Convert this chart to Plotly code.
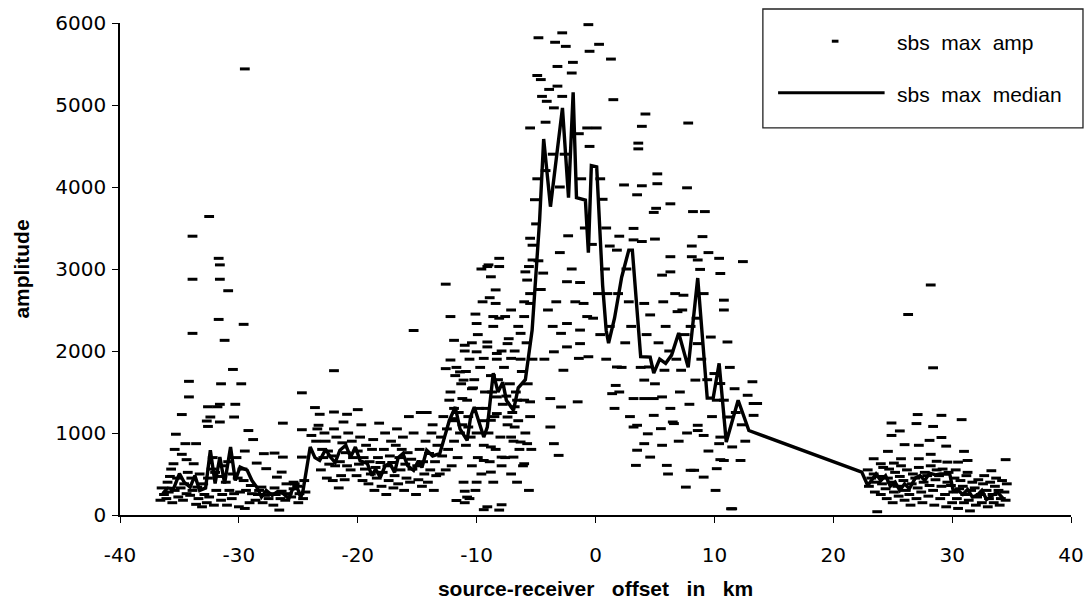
import plotly.graph_objects as go

# ---------------- data ----------------
median_km = [-36.4, -36.0, -35.5, -35.0, -34.6, -34.1, -33.7, -33.3, -32.8, -32.4, -32.0, -31.6,
             -31.2, -30.7, -30.3, -29.9, -29.3, -28.9, -28.5, -28.1, -27.7, -27.2, -26.8, -26.3,
             -25.8, -25.5, -25.1, -24.8, -24.6, -24.0, -23.6, -23.2, -22.7, -22.3, -21.9, -21.5,
             -21.0, -20.6, -20.2, -19.8, -19.2, -18.8, -18.5, -18.1, -17.7, -17.3, -16.9, -16.6,
             -16.2, -15.8, -15.3, -14.9, -14.6, -14.2, -13.7, -13.1, -12.7, -12.3, -11.8, -11.4,
             -10.8, -10.5, -10.2, -9.7, -9.4, -9.1, -8.6, -8.2, -7.8, -7.5, -6.9, -6.5, -5.9,
             -5.33, -5.0, -4.7, -4.36, -3.79, -2.78, -2.27, -1.88, -1.6, -0.85, -0.6, -0.35, 0.1,
             0.6, 0.9, 1.1, 1.6, 2.2, 2.8, 3.1, 3.8, 4.6, 4.9, 5.4, 5.9, 6.4, 7.0, 7.8, 8.6, 9.4,
             9.9, 10.4, 11.0, 12.0, 12.9, 22.4, 22.9, 23.3, 23.6, 24.0, 24.4, 24.8, 25.2, 25.6,
             26.0, 26.4, 26.9, 27.3, 27.7, 28.1, 28.6, 29.0, 29.5, 29.8, 30.1, 30.5, 30.9, 31.3,
             31.7, 32.1, 32.5, 32.9, 33.3, 33.8, 34.3]
median_amp = [260, 330, 320, 505, 400, 340, 480, 300, 330, 790, 385, 706,
              385, 830, 420, 585, 545, 420, 340, 220, 300, 240, 280, 265,
              200, 310, 340, 210, 300, 830, 700, 665, 800, 706, 640, 790,
              850, 706, 830, 660, 630, 480, 560, 460, 600, 630, 520, 700,
              750, 600, 545, 660, 580, 790, 720, 748, 950, 1150, 1317, 1050,
              910, 1200, 1317, 1100, 950, 1073, 1730, 1500, 1620, 1400, 1277, 1550, 1650,
              2255, 2900, 3600, 4585, 3760, 4965, 3870, 5155, 3870, 3840, 3200, 4260, 4245,
              2800, 2250, 2095, 2400, 2900, 3230, 3230, 1930, 1925, 1730, 1900, 1850, 1950, 2220, 1800, 2890, 1425,
              1425, 1850, 890, 1400, 1030, 523, 360, 440, 500, 420, 480, 350, 400, 300,
              380, 320, 450, 480, 420, 510, 490, 500, 505, 500, 290, 300, 250, 310,
              220, 240, 300, 190, 230, 280, 200]

amp_far_left = [
    (-29.5, 5440), (-33.9, 3400), (-32.5, 3640), (-31.7, 3130), (-31.6, 3050), (-33.9, 2875),
    (-31.6, 2875), (-30.9, 2735), (-33.9, 2215), (-31.7, 2385), (-29.6, 2325), (-31.2, 2130),
    (-30.5, 1775), (-34.2, 1630), (-31.5, 1600), (-29.8, 1600), (-34.2, 1440), (-30.3, 1350),
    (-31.6, 1350), (-32.6, 1320), (-31.8, 1320), (-34.8, 1225), (-32.4, 1195), (-30.4, 1195),
    (-32.7, 1146), (-31.6, 1134), (-32.6, 1080), (-26.3, 1120), (-29.2, 1030), (-28.8, 920),
    (-35.3, 985), (-34.5, 870), (-33.6, 870), (-24.7, 1490), (-22.0, 1760), (-35.4, 800),
    (-34.8, 740), (-35.5, 625), (-33.8, 625), (-34.4, 675), (-28.5, 633), (-29.5, 780),
    (-27.9, 748), (-27.0, 755), (-26.3, 706), (-27.7, 565), (-26.4, 523), (-26.8, 462),
    (-25.4, 400), (-24.7, 706), (-24.7, 1040), (-23.9, 970), (-23.6, 1310), (-23.2, 1228),
    (-23.3, 1094), (-22.0, 1256), (-21.2, 1134), (-20.9, 1228), (-20.0, 1285),
    (-36.6, 180), (-36.3, 250), (-36.5, 330), (-36.1, 200), (-35.9, 280), (-36.0, 400),
    (-35.8, 470), (-35.6, 150), (-35.4, 300), (-35.7, 560), (-35.1, 220), (-34.9, 330),
    (-35.2, 450), (-34.7, 180), (-34.4, 260), (-34.6, 380), (-34.3, 520), (-34.1, 240),
    (-33.9, 300), (-34.0, 450), (-33.6, 130), (-33.4, 200), (-33.5, 340), (-33.3, 500),
    (-33.1, 100), (-32.9, 250), (-33.0, 380), (-32.7, 150), (-32.5, 220), (-32.6, 450),
    (-32.3, 560), (-32.1, 120), (-31.9, 300), (-32.0, 520), (-32.2, 700), (-31.5, 180),
    (-31.4, 250), (-31.7, 470), (-31.3, 600), (-31.0, 120), (-30.8, 300), (-31.1, 400),
    (-30.9, 650), (-30.6, 200), (-30.4, 260), (-30.5, 500), (-30.2, 700), (-30.0, 100),
    (-29.9, 280), (-30.1, 450), (-29.7, 560), (-29.5, 80), (-29.4, 300), (-29.6, 420),
    (-29.1, 150), (-28.9, 260), (-29.0, 360), (-28.6, 180), (-28.4, 250), (-28.3, 300),
    (-28.0, 150), (-27.8, 240), (-28.1, 340), (-27.5, 200), (-27.3, 260), (-27.1, 120),
    (-26.9, 250), (-27.0, 330), (-26.6, 60), (-26.5, 200), (-26.4, 290), (-26.1, 180),
    (-25.9, 260), (-26.0, 380), (-25.6, 220), (-25.4, 320), (-25.3, 380), (-25.0, 150),
    (-24.9, 260), (-25.1, 350), (-24.6, 200), (-24.4, 280), (-24.5, 420),
]

amp_left = [
    (-23.5, 900), (-23.4, 1050), (-23.1, 550), (-22.9, 700), (-23.0, 800), (-22.8, 1000),
    (-22.6, 450), (-22.4, 620), (-22.5, 780), (-22.7, 900), (-22.1, 420), (-21.9, 600),
    (-22.2, 720), (-21.8, 950), (-22.0, 1050), (-21.6, 330), (-21.4, 480), (-21.5, 650),
    (-21.3, 880), (-21.1, 430), (-20.9, 600), (-21.0, 760), (-20.8, 1000), (-20.6, 550),
    (-20.4, 700), (-20.5, 900), (-20.1, 480), (-19.9, 620), (-20.0, 780), (-19.8, 950),
    (-19.6, 420), (-19.4, 560), (-19.5, 700), (-19.3, 850), (-19.7, 1100), (-19.1, 380),
    (-18.9, 500), (-19.0, 650), (-18.8, 800), (-18.6, 300), (-18.4, 450), (-18.5, 580),
    (-18.3, 700), (-18.7, 920), (-18.2, 1120), (-18.0, 350), (-17.9, 520), (-18.1, 640),
    (-17.8, 800), (-17.7, 1000), (-17.6, 250), (-17.4, 420), (-17.5, 600), (-17.3, 720),
    (-17.2, 900), (-17.0, 330), (-16.9, 480), (-17.1, 640), (-16.8, 850), (-16.7, 1050),
    (-16.6, 380), (-16.4, 550), (-16.5, 700), (-16.3, 800), (-16.1, 300), (-15.9, 450),
    (-16.0, 620), (-15.8, 760), (-16.2, 950), (-15.7, 1200), (-15.6, 400), (-15.4, 560),
    (-15.5, 680), (-15.3, 1000), (-15.3, 2250), (-15.1, 250), (-14.9, 430), (-15.0, 600),
    (-14.8, 800), (-14.7, 1250), (-14.6, 350), (-14.4, 500), (-14.5, 650), (-14.3, 900),
    (-14.1, 400), (-13.9, 550), (-14.0, 750), (-13.8, 1000), (-14.2, 1250), (-13.6, 300),
    (-13.4, 480), (-13.5, 650), (-13.3, 850), (-13.7, 1100), (-13.1, 500), (-12.9, 720),
    (-13.0, 950), (-12.8, 1200),
]

amp_center_left = [
    (-12.6, 550), (-12.4, 800), (-12.5, 1050), (-12.3, 1400), (-12.1, 600), (-11.9, 900),
    (-12.0, 1150), (-12.2, 1500), (-11.8, 1700), (-11.6, 700), (-11.4, 1000), (-11.5, 1250),
    (-11.3, 1600), (-11.7, 1800), (-11.0, 150), (-11.1, 400), (-10.9, 850), (-11.2, 1100),
    (-10.8, 1400), (-10.9, 1750), (-11.0, 2000), (-10.6, 200), (-10.4, 600), (-10.5, 950),
    (-10.7, 1200), (-10.3, 1550), (-10.6, 1900), (-10.4, 2100), (-10.1, 300), (-9.9, 700),
    (-10.0, 1000), (-9.8, 1300), (-10.2, 1650), (-9.9, 2200), (-10.1, 2450), (-9.6, 500),
    (-9.4, 850), (-9.5, 1150), (-9.3, 1500), (-9.7, 1800), (-9.5, 2600), (-9.6, 3000),
    (-9.1, 100), (-8.9, 650), (-9.0, 1000), (-9.2, 1300), (-8.8, 1700), (-9.1, 2050),
    (-8.9, 2650), (-9.0, 3050), (-8.6, 400), (-8.4, 800), (-8.5, 1200), (-8.7, 1500),
    (-8.3, 1900), (-8.6, 2300), (-8.1, 60), (-7.9, 600), (-8.0, 950), (-7.8, 1350),
    (-8.2, 1650), (-7.9, 2000), (-8.1, 2400), (-7.6, 700), (-7.4, 1100), (-7.5, 1450),
    (-7.7, 1800), (-7.3, 2150), (-7.1, 500), (-6.9, 900), (-7.0, 1250), (-7.2, 1600),
    (-6.8, 2000), (-7.1, 2500), (-6.6, 400), (-6.4, 800), (-6.5, 1150), (-6.7, 1500),
    (-6.3, 1900), (-6.5, 2300), (-6.1, 600), (-5.9, 1000), (-6.0, 1400), (-6.2, 1750),
    (-5.8, 2100), (-6.0, 2600), (-5.6, 300), (-5.4, 800), (-5.5, 1200), (-5.7, 1600),
    (-5.3, 1900), (-5.5, 2700),
    (-12.6, 2815), (-8.4, 2745), (-8.4, 2580), (-8.6, 2420), (-7.6, 2420), (-12.2, 2420),
    (-11.9, 2130), (-11.0, 2070), (-10.0, 1990), (-12.2, 1890), (-12.6, 1785), (-11.4, 1745),
    (-9.4, 1910), (-9.1, 2110), (-8.3, 1970), (-7.4, 2090), (-7.1, 1910), (-6.3, 2215),
    (-6.0, 2420), (-5.5, 2580), (-5.75, 2865), (-10.0, 2335), (-11.1, 1645), (-10.4, 1540),
    (-8.3, 1440), (-6.6, 1400), (-5.5, 1380), (-6.8, 1320), (-11.9, 1300), (-11.2, 1420),
    (-11.9, 1175), (-10.7, 1073), (-8.8, 1155), (-8.3, 1237), (-7.4, 1195), (-6.8, 1073),
    (-7.1, 950), (-6.3, 890), (-5.75, 870), (-8.8, 830), (-7.9, 706), (-6.9, 706),
    (-6.0, 625), (-9.4, 665), (-8.8, 523), (-10.0, 400), (-11.0, 290), (-11.7, 177),
    (-10.8, 218), (-9.4, 65), (-7.9, 125),
    (-8.1, 3130), (-9.1, 3030), (-8.1, 3030), (-8.8, 2905), (-5.9, 2965), (-5.6, 3030),
    (-5.3, 3110), (-5.5, 3375), (-5.3, 3290), (-5.1, 3845), (-5.5, 4720),
]

amp_center = [
    (-4.8, 5820), (-2.8, 5880), (-3.4, 5765), (-2.5, 5715), (-0.6, 5980), (0.3, 5740),
    (-0.5, 5655), (1.3, 5560), (1.4, 6040), (-1.9, 5520), (-3.2, 5470), (-2.0, 5390),
    (-4.9, 5360), (-4.6, 5310), (-3.2, 5230), (-3.9, 5190), (-4.5, 5105), (-2.8, 5105),
    (-4.1, 5045), (-3.5, 4965), (1.5, 5065), (-4.2, 4790), (-0.7, 4720), (0.1, 4720),
    (-0.5, 4495), (-2.3, 3405), (1.2, 3280), (1.8, 3230), (2.0, 3400),
    (-5.0, 3550), (-4.8, 3100), (-4.6, 2750), (-4.4, 2950), (-4.9, 4100), (-4.2, 4200),
    (-3.6, 4400), (-3.0, 4000), (-2.6, 4400), (-1.4, 4650), (-1.2, 4100), (-0.9, 3500),
    (-0.3, 3300), (0.4, 4100), (0.6, 3850), (0.9, 3500), (0.8, 3000), (1.0, 2700),
    (-3.8, 1420), (-2.9, 1317), (-3.8, 1073), (-3.5, 870), (-3.1, 727), (-1.5, 1380),
    (-2.7, 1765), (-3.5, 1990), (-2.4, 2050), (-1.4, 1910), (-0.6, 1930), (-1.3, 2090),
    (-2.9, 2215), (-1.3, 2255), (-2.4, 2335), (-1.0, 2580), (-2.4, 2845), (-1.3, 2835),
    (-0.7, 2420), (1.8, 1805), (1.7, 1580), (1.4, 1480),
    (-4.0, 2500), (-3.6, 2300), (-4.3, 1900), (-3.3, 2600), (-3.0, 3200), (-2.0, 3000),
    (-1.7, 2600), (-0.2, 2400), (0.2, 2700), (0.4, 2200), (1.2, 2300), (0.9, 1900),
]

amp_right = [
    (4.2, 4890), (3.9, 4740), (7.8, 4780), (3.6, 4535), (3.6, 4465), (5.2, 4160),
    (5.2, 4040), (2.4, 4025), (3.9, 4015), (7.7, 3990), (3.5, 3905), (6.3, 3795),
    (5.1, 3740), (4.9, 3690), (8.2, 3700), (9.2, 3700), (3.2, 3495), (3.2, 3355),
    (3.9, 3335), (5.0, 3365), (9.0, 3395), (8.1, 3280), (9.5, 3200), (10.4, 3130),
    (12.4, 3090), (6.3, 3150), (8.1, 3150), (8.6, 3110), (5.6, 2925), (6.3, 2965),
    (10.5, 2945), (8.8, 2995),
    (3.2, 1420), (4.1, 1420), (4.9, 1420), (5.6, 1440), (4.9, 1215), (3.5, 1094),
    (4.4, 990), (5.5, 1053), (6.6, 1115), (8.6, 1094), (9.1, 970), (4.1, 870),
    (5.6, 850), (3.5, 790), (4.6, 706), (3.4, 605), (8.3, 545), (9.1, 462),
    (7.6, 340), (10.1, 300), (11.4, 76), (4.1, 1645), (4.5, 1805), (5.8, 1765),
    (7.2, 1765), (8.4, 1645), (10.0, 1725), (10.5, 1603), (10.8, 1400), (11.1, 1195),
    (10.5, 950), (8.6, 2090), (9.7, 2170), (11.1, 2110), (10.8, 2500), (10.8, 2620),
    (6.9, 2480), (4.6, 2440), (4.1, 2580), (7.4, 2680), (9.1, 2700),
    (13.2, 1625), (12.8, 1460), (13.3, 1360), (13.3, 1215), (12.2, 665), (10.5, 675),
    (10.4, 870), (8.6, 1030), (6.5, 1134), (3.2, 1073), (6.0, 605), (8.0, 545),
    (10.2, 565), (10.8, 665), (11.7, 1540), (11.5, 830), (11.5, 76), (13.6, 1360),
    (2.5, 2100), (2.2, 1800), (2.8, 2600), (3.0, 2300), (1.9, 2700), (2.6, 3000),
    (5.3, 2100), (5.9, 2300), (6.2, 2000), (6.8, 1900), (7.5, 2200), (7.1, 1500),
    (7.9, 1350), (6.3, 1300), (5.0, 1600), (8.9, 1900), (8.5, 2400), (9.4, 1650),
    (9.8, 1200), (10.2, 1400), (11.3, 1800), (11.8, 1250), (12.3, 1100), (12.6, 900),
    (7.3, 2500), (8.0, 2300), (6.7, 2700), (4.3, 2200), (3.8, 1800), (5.7, 2600),
    (2.0, 1500), (1.6, 1300), (2.9, 1200), (7.0, 900), (6.1, 500), (9.5, 780), (7.7, 1000),
]

amp_far_right = [
    (28.2, 2805), (26.3, 2445), (28.4, 1795), (27.1, 1225), (29.1, 1215), (30.8, 1163),
    (24.9, 1122), (27.0, 1115), (28.4, 1080), (25.6, 1025), (24.9, 970), (29.1, 945),
    (28.1, 910), (26.0, 858), (27.2, 850), (29.5, 840), (31.0, 776), (28.2, 740),
    (24.6, 776), (25.7, 686), (34.5, 675), (23.4, 686), (27.2, 686), (28.7, 655),
    (29.6, 645), (30.5, 645), (31.3, 665), (24.0, 625), (25.1, 633),
    (23.0, 350), (23.2, 450), (22.9, 550), (23.5, 280), (23.6, 400), (23.4, 500), (23.7, 40),
    (24.0, 250), (24.1, 380), (23.9, 470), (24.2, 580), (24.5, 200), (24.4, 320),
    (24.6, 450), (24.7, 560), (25.0, 150), (25.1, 280), (24.9, 400), (25.2, 520),
    (25.5, 230), (25.4, 350), (25.6, 470), (25.7, 600), (26.0, 180), (26.1, 300),
    (25.9, 420), (26.2, 550), (26.5, 120), (26.4, 250), (26.6, 380), (26.7, 500),
    (27.0, 200), (27.1, 330), (26.9, 450), (27.2, 580), (27.5, 150), (27.4, 280),
    (27.6, 400), (27.7, 520), (28.0, 230), (28.1, 360), (27.9, 480), (28.2, 600),
    (28.5, 120), (28.4, 300), (28.6, 430), (28.7, 550), (29.0, 200), (29.1, 350),
    (28.9, 480), (29.2, 560), (29.5, 100), (29.4, 250), (29.6, 400), (29.7, 520),
    (30.0, 150), (30.1, 280), (29.9, 360), (30.2, 450), (30.5, 80), (30.4, 200),
    (30.6, 320), (30.7, 420), (30.3, 550), (31.0, 150), (31.1, 250), (30.9, 350),
    (31.2, 480), (31.5, 50), (31.4, 180), (31.6, 300), (31.7, 400), (31.3, 520),
    (32.0, 120), (32.1, 220), (31.9, 330), (32.2, 430), (32.5, 150), (32.4, 250),
    (32.6, 380), (32.7, 480), (33.0, 100), (33.1, 200), (32.9, 300), (33.2, 400),
    (33.3, 540), (33.5, 150), (33.4, 250), (33.6, 350), (33.7, 450), (34.0, 120),
    (34.1, 200), (33.9, 300), (34.2, 420), (34.5, 180), (34.4, 280), (34.6, 380),
]

x_ticks = [-40, -30, -20, -10, 0, 10, 20, 30, 40]
y_ticks = [0, 1000, 2000, 3000, 4000, 5000, 6000]

# ---------------- figure ----------------
all_points = amp_far_left + amp_left + amp_center_left + amp_center + amp_right + amp_far_right
amp_km = [p[0] for p in all_points]
amp_val = [p[1] for p in all_points]

FONT = "Liberation Sans, Arial, Helvetica, sans-serif"
TICKFONT = "DejaVu Sans, Liberation Sans, sans-serif"
SP = "\u00a0\u00a0 "

fig = go.Figure()
fig.add_trace(go.Scatter(
    x=amp_km, y=amp_val, mode="markers", name="sbs max amp",
    marker=dict(symbol="line-ew", size=7, color="black",
                line=dict(width=3, color="black")),
    showlegend=False, cliponaxis=False,
))
fig.add_trace(go.Scatter(
    x=median_km, y=median_amp, mode="lines", name="sbs max median",
    line=dict(color="black", width=3.4),
    showlegend=False,
))

# legend box drawn as a framed key (paper coordinates)
fig.add_shape(type="rect", xref="paper", yref="paper",
              x0=0.676, x1=1.0126, y0=0.787, y1=1.0285,
              line=dict(color="#222222", width=1.3), fillcolor="white", layer="below")
fig.add_shape(type="line", xref="paper", yref="paper",
              x0=0.7485, x1=0.7555, y0=0.963, y1=0.963,
              line=dict(color="black", width=3))
fig.add_shape(type="line", xref="paper", yref="paper",
              x0=0.692, x1=0.804, y0=0.858, y1=0.858,
              line=dict(color="black", width=3))
fig.add_annotation(xref="paper", yref="paper", x=0.815, y=0.960, xanchor="left",
                   yanchor="middle", showarrow=False,
                   text="sbs\u00a0 max\u00a0 amp", font=dict(family=FONT, size=21, color="black"))
fig.add_annotation(xref="paper", yref="paper", x=0.815, y=0.855, xanchor="left",
                   yanchor="middle", showarrow=False,
                   text="sbs\u00a0 max\u00a0 median", font=dict(family=FONT, size=21, color="black"))

fig.update_layout(
    width=1087, height=609,
    margin=dict(l=120, r=16, t=23, b=94, autoexpand=False),
    paper_bgcolor="white", plot_bgcolor="white",
    font=dict(family=FONT, color="black"),
    showlegend=False,
)
fig.update_xaxes(
    range=[-40, 40], tickvals=x_ticks, ticktext=[str(v) for v in x_ticks],
    showgrid=False, zeroline=False, showline=True, linecolor="black", linewidth=1.5,
    ticks="outside", ticklen=6, tickwidth=1.3, tickcolor="black", automargin=False,
    tickfont=dict(family=TICKFONT, size=20, color="black"), ticklabelstandoff=15,
    title=dict(text="<b>source-receiver" + SP + "offset" + SP + "in" + SP + "km</b>",
               font=dict(family=FONT, size=21, color="black"), standoff=16),
)
fig.update_yaxes(
    range=[0, 6000], tickvals=y_ticks, ticktext=[str(v) for v in y_ticks],
    showgrid=False, zeroline=False, showline=True, linecolor="black", linewidth=1.5,
    ticks="outside", ticklen=6, tickwidth=1.3, tickcolor="black", automargin=False,
    tickfont=dict(family=TICKFONT, size=20, color="black"), ticklabelstandoff=2,
    title=dict(text="<b>amplitude</b>", font=dict(family=FONT, size=21, color="black"),
               standoff=20),
)

fig.write_html("out.html", config={"displayModeBar": False},
               post_script="document.body.style.margin='0px';")
